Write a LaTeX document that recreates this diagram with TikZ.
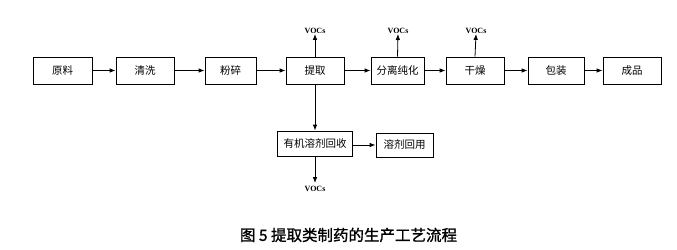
\documentclass[tikz,border=0pt]{standalone}
\usepackage{fontspec}
\newfontfamily\cjk{Noto Sans CJK SC}
\newfontfamily\captfont[FakeBold=1.2]{Noto Sans CJK SC}
\newfontfamily\vocfont{Liberation Serif}
\usetikzlibrary{arrows.meta}

\tikzset{
	box/.style={draw, line width=0.8pt, minimum height=27pt, inner sep=0pt, font=\cjk\fontsize{10.5}{12}\selectfont},
	voc/.style={inner sep=0pt, font=\vocfont\bfseries\fontsize{8}{9}\selectfont},
	flow/.style={line width=0.8pt, -{Latex[length=6pt,width=4.5pt]}}
}

\begin{document}
\begin{tikzpicture}[x=1pt, y=-1pt]
	
	\useasboundingbox (0,0) rectangle (677,249);
	
	\node[box, minimum width=59pt] (yuanliao) at (62.5,70.5) {原料};
	\node[box, minimum width=58pt] (qingxi) at (145,70.5) {清洗};
	\node[box, minimum width=51pt] (fensui) at (230.5,70.5) {粉碎};
	\node[box, minimum width=58pt] (tiqu) at (315,70.5) {提取};
	\node[box, minimum width=53pt] (fenli) at (397.5,70.5) {分离纯化};
	\node[box, minimum width=58pt] (ganzao) at (475,70.5) {干燥};
	\node[box, minimum width=56pt] (baozhuang) at (556,70.5) {包装};
	\node[box, minimum width=58pt] (chengpin) at (632,70.5) {成品};
	
	\node[box, minimum width=75pt, minimum height=25pt] (huishou) at (315,143.5) {有机溶剂回收};
	\node[box, minimum width=57pt, minimum height=24pt] (huiyong) at (404.5,145) {溶剂回用};
	
	\node[voc] (voca) at (315,31) {VOCs};
	\node[voc] (vocb) at (398,31) {VOCs};
	\node[voc] (vocc) at (476,31) {VOCs};
	\node[voc] (vocd) at (315,189) {VOCs};
	
	\draw[flow] (yuanliao) -- (qingxi);
	\draw[flow] (qingxi) -- (fensui);
	\draw[flow] (fensui) -- (tiqu);
	\draw[flow] (tiqu) -- (fenli);
	\draw[flow] (fenli) -- (ganzao);
	\draw[flow] (ganzao) -- (baozhuang);
	\draw[flow] (baozhuang) -- (chengpin);
	
	\draw[flow] (tiqu.north) -- (voca.south);
	\draw[flow] (fenli.north) -- (vocb.south);
	\draw[flow] (ganzao.north) -- (vocc.south);
	
	\draw[flow] (tiqu.south) -- (huishou.north);
	\draw[flow] (huishou.east |- huiyong.west) -- (huiyong.west);
	\draw[flow, shorten >=3pt] (huishou.south -| vocd.north) -- (vocd.north);
	
	\node[font=\captfont\fontsize{15.5}{17}\selectfont] (tuming) at (348.5,235) {图 5 提取类制药的生产工艺流程};
	
\end{tikzpicture}
\end{document}
